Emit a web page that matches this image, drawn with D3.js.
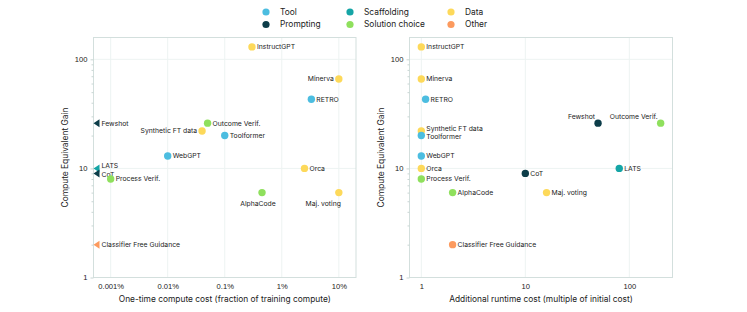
<!DOCTYPE html>
<html>
<head>
<meta charset="utf-8">
<script src="https://cdn.jsdelivr.net/npm/d3@7"></script>
<style>
  body { margin: 0; background: #fff; }
  svg { font-family: Inter, "Liberation Sans", sans-serif; }
  .axis text { fill: #222; font-size: 7.6px; }
  .axis path.domain { display: none; }
  .axis line { stroke: #c9d6d4; }
  .lbl { fill: #222; font-size: 6.8px; }
  .title { fill: #222; font-size: 8.4px; }
  .legend text { fill: #222; font-size: 8.4px; }
</style>
</head>
<body>
<div id="chart"></div>
<script>
var width = 747, height = 312;

// methods
var names = ["InstructGPT", "Minerva", "RETRO", "Fewshot", "Outcome Verif.", "Synthetic FT data",
  "Toolformer", "WebGPT", "LATS", "CoT", "Process Verif.", "Orca", "AlphaCode", "Maj. voting",
  "Classifier Free Guidance"];
var groups = ["Data", "Data", "Tool", "Prompting", "Solution choice", "Data",
  "Tool", "Tool", "Scaffolding", "Prompting", "Solution choice", "Data", "Solution choice", "Data",
  "Other"];
// one-time cost as fraction of training compute (null = none)
var oneTimeCost = [0.003, 0.1, 0.033, null, 0.0005, 0.0004, 0.001, 0.0001, null, null, 0.00001, 0.025, 0.0045, 0.1, null];
// runtime cost multiple
var runtimeCost = [1, 1, 1.1, 50, 200, 1, 1, 1, 80, 10, 1, 1, 2, 16, 2];
// compute equivalent gain
var gain = [130, 66, 43, 26, 26, 22, 20, 13, 10, 9, 8, 10, 6, 6, 2];

var legendGroups = ["Tool", "Prompting", "Scaffolding", "Solution choice", "Data", "Other"];
var legendColors = ["#4cbde0", "#0c3d49", "#15a5a6", "#8fe05d", "#fdd95a", "#fc9a5e"];

var yTicks = [1, 10, 100];
var leftTicks = [1e-5, 1e-4, 1e-3, 1e-2, 1e-1];
var leftTickLabels = ["0.001%", "0.01%", "0.1%", "1%", "10%"];
var rightTicks = [1, 10, 100];
var rightTickLabels = ["1", "10", "100"];

var colour = d3.scaleOrdinal().domain(legendGroups).range(legendColors);

var svg = d3.select("#chart").append("svg")
  .attr("width", width)
  .attr("height", height);

///////// legend /////////
var legCols = [266, 350, 451], legRows = [12, 24.5];
var legend = svg.append("g").attr("class", "legend");
legendGroups.forEach(function(g, i) {
  var cx = legCols[Math.floor(i / 2)], cy = legRows[i % 2];
  legend.append("circle").attr("cx", cx).attr("cy", cy).attr("r", 3.6).attr("fill", colour(g));
  legend.append("text").attr("x", cx + 14).attr("y", cy).attr("dy", "0.35em").text(g);
});

///////// panels /////////
var plotTop = 37.5, plotBottom = 277.5;
var y = d3.scaleLog().domain([1, 158.5]).range([plotBottom, plotTop]);

var minorY = [];
[1, 10].forEach(function(d) { for (var k = 2; k <= 9; k++) minorY.push(d * k); });

function drawPanel(opt) {
  var x = d3.scaleLog().domain(opt.domain).range([opt.left, opt.right]);
  var g = svg.append("g");

  // grid
  g.selectAll(".gx").data(opt.ticks).enter().append("line")
    .attr("x1", function(d) { return x(d); }).attr("x2", function(d) { return x(d); })
    .attr("y1", plotTop).attr("y2", plotBottom)
    .attr("stroke", "#edf3f2");
  g.selectAll(".gy").data(yTicks).enter().append("line")
    .attr("x1", opt.left).attr("x2", opt.right)
    .attr("y1", function(d) { return y(d); }).attr("y2", function(d) { return y(d); })
    .attr("stroke", "#edf3f2");

  g.append("rect")
    .attr("x", opt.left).attr("y", plotTop)
    .attr("width", opt.right - opt.left).attr("height", plotBottom - plotTop)
    .attr("fill", "none").attr("stroke", "#d3dfdd");

  // axes
  g.append("g").attr("class", "axis")
    .attr("transform", "translate(" + opt.left + ",0)")
    .call(d3.axisLeft(y).tickValues(yTicks).tickSize(3).tickPadding(3).tickFormat(d3.format("d")));
  g.append("g").attr("class", "axis")
    .attr("transform", "translate(" + opt.left + ",0)")
    .call(d3.axisLeft(y).tickValues(minorY).tickSize(2).tickFormat(""));
  g.append("g").attr("class", "axis")
    .attr("transform", "translate(0," + plotBottom + ")")
    .call(d3.axisBottom(x).tickValues(opt.ticks).tickSize(0).tickPadding(6)
      .tickFormat(function(d, i) { return opt.tickLabels[i]; }));

  g.append("text").attr("class", "title")
    .attr("x", (opt.left + opt.right) / 2).attr("y", 302)
    .attr("text-anchor", "middle").text(opt.xTitle);
  g.append("text").attr("class", "title")
    .attr("transform", "translate(" + (opt.left - 26) + "," + ((plotTop + plotBottom) / 2) + ") rotate(-90)")
    .attr("text-anchor", "middle").text("Compute Equivalent Gain");

  // points
  names.forEach(function(n, i) {
    var v = opt.values[i], py = y(gain[i]), c = colour(groups[i]), px, tx, ty, anchor = "start";
    if (v == null) {
      px = opt.left + 3;
      g.append("path")
        .attr("d", "M" + (px - 3) + "," + py + "L" + (px + 3) + "," + (py - 4) + "L" + (px + 3) + "," + (py + 4) + "Z")
        .attr("fill", c);
      tx = px + 5; ty = py;
    } else {
      px = x(v);
      g.append("circle").attr("cx", px).attr("cy", py).attr("r", 3.7).attr("fill", c);
      tx = px + 5; ty = py;
    }
    var pos = opt.labelPos[n];
    if (pos === "left") { tx = px - 5; anchor = "end"; }
    else if (pos === "below") { tx = px - 4; ty = py + 11.5; anchor = "middle"; }
    else if (pos === "belowLeft") { tx = px + 2; ty = py + 11.5; anchor = "end"; }
    else if (pos === "aboveLeft") { tx = px - 3; ty = py - 6.5; anchor = "end"; }
    else if (pos === "up") { ty = py - 2.5; }
    else if (pos === "down") { ty = py + 1; }
    g.append("text").attr("class", "lbl")
      .attr("x", tx).attr("y", ty).attr("dy", "0.35em")
      .attr("text-anchor", anchor).text(n);
  });
}

drawPanel({
  left: 93.5, right: 356,
  domain: [5e-6, 0.2],
  ticks: leftTicks, tickLabels: leftTickLabels,
  values: oneTimeCost,
  xTitle: "One-time compute cost (fraction of training compute)",
  labelPos: { "Minerva": "left", "Synthetic FT data": "left", "AlphaCode": "below", "Maj. voting": "belowLeft",
    "LATS": "up", "CoT": "down" }
});

drawPanel({
  left: 409.5, right: 672.5,
  domain: [0.77, 260],
  ticks: rightTicks, tickLabels: rightTickLabels,
  values: runtimeCost,
  xTitle: "Additional runtime cost (multiple of initial cost)",
  labelPos: { "Fewshot": "aboveLeft", "Outcome Verif.": "aboveLeft", "Synthetic FT data": "up", "Toolformer": "down" }
});
</script>
</body>
</html>
